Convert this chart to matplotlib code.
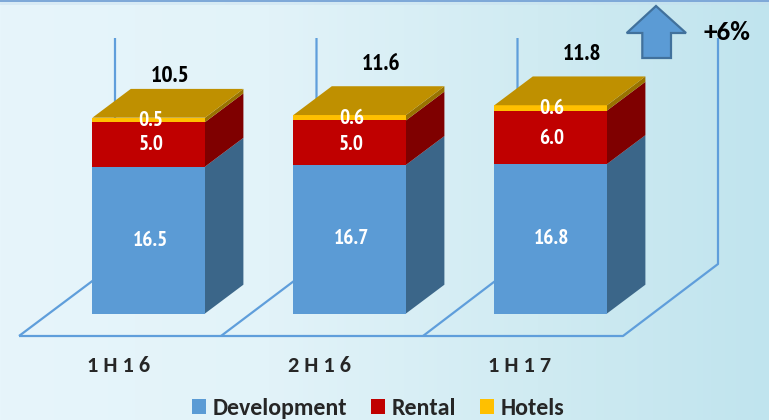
import numpy as np
import matplotlib
matplotlib.use("Agg")
import matplotlib.pyplot as plt
from matplotlib import font_manager as fm
from matplotlib.patches import Patch, Polygon
from matplotlib.transforms import Affine2D
from matplotlib.colors import to_rgb

categories = ["1 H 1 6", "2 H 1 6", "1 H 1 7"]
development = [16.5, 16.7, 16.8]
rental = [5.0, 5.0, 6.0]
hotels = [0.5, 0.6, 0.6]
totals = ["10.5", "11.6", "11.8"]
change_label = "+6%"

W, H = 769, 420
BAR_STEP = 201.0      # px between categories
UNIT = 8.9            # px per value unit
X0, Y0 = 148.7, 313.5 # px of first bar centre / baseline
BAR_W = 112.6 / BAR_STEP
DX = 38.4 / BAR_STEP
DY = 28.8 / UNIT

installed = {f.name for f in fm.fontManager.ttflist}
def pick(*names):
    return next((n for n in names if n in installed), "DejaVu Sans")
NARROW = pick("Liberation Sans Narrow", "PT Sans Narrow", "Pragati Narrow",
              "Cabin Condensed", "Liberation Sans")
BODY = pick("Carlito", "Lato")

fig = plt.figure(figsize=(W / 100, H / 100), dpi=100)

# background
bg = fig.add_axes([0, 0, 1, 1], zorder=0)
bg.axis("off")
stops_x = [0, 0.35, 0.7, 1]
stops_c = [to_rgb(c) for c in ("#e7f5fb", "#e2f3f9", "#d0ebf2", "#c0e4ee")]
xs = np.linspace(0, 1, W)
row = np.stack([np.interp(xs, stops_x, [c[i] for c in stops_c]) for i in range(3)], axis=1)
img = np.repeat(row[None, :, :], H, axis=0)
img[:2, :, :] = to_rgb("#7fa9d8")
img[2:5, :, :] = img[2:5, :, :] * 0.6 + np.array(to_rgb("#c4dcee")) * 0.4
bg.imshow(img, aspect="auto", extent=(0, W, H, 0), interpolation="nearest")

ax = fig.add_axes([0, 0, 1, 1], zorder=1)
ax.set_xlim(-X0 / BAR_STEP, (W - X0) / BAR_STEP)
ax.set_ylim((Y0 - H) / UNIT, Y0 / UNIT)
ax.axis("off")
ax.patch.set_alpha(0)

px = Affine2D().scale(1, -1).translate(0, H)
LINE = "#5f9edb"

# floor and wall lines
floor = dict(color=LINE, lw=1.6, transform=px, zorder=1, solid_capstyle="butt")
ax.plot([19, 623, 718, 718], [336, 336, 264, 38], **floor)
for xl, xb in ((19, 115), (221, 316.5), (423, 517.5)):
    ax.plot([xl, xb, xb], [336, 264, 38], **floor)

x = np.arange(len(categories))
seg = [
    (development, "#5b9bd5", "#3b6689", "Development"),
    (rental, "#c00000", "#7f0000", "Rental"),
    (hotels, "#ffc000", "#997300", "Hotels"),
]
bottom = np.zeros(len(x))
for values, front, side, name in seg:
    values = np.array(values)
    ax.bar(x, values, BAR_W, bottom=bottom, color=front, linewidth=0, zorder=3)
    for xi, b, v in zip(x, bottom, values):
        r = xi + BAR_W / 2
        ax.add_patch(Polygon([(r, b), (r + DX, b + DY), (r + DX, b + v + DY), (r, b + v)],
                             closed=True, fc=side, ec="none", zorder=2.5))
    bottom = bottom + values

for xi, t in zip(x, bottom):
    l, r = xi - BAR_W / 2, xi + BAR_W / 2
    ax.add_patch(Polygon([(l, t), (l + DX, t + DY), (r + DX, t + DY), (r, t)],
                         closed=True, fc="#bf9000", ec="none", zorder=3))

# arrow
arrow = [(656, 6), (686, 33), (671, 33), (671, 58), (642.3, 58), (642.3, 33), (626.7, 33)]
ax.add_patch(Polygon(arrow, closed=True, fc="#5b9bd5", ec="#41719c", lw=1.6,
                     transform=px, zorder=4))

value_style = dict(family=NARROW, weight="bold", color="white", ha="center", va="center",
                   fontsize=15.5, transform=px, zorder=6)
label_x = (151, 351.5, 552)
dev_y = (240, 239, 239)
ren_y = (145, 144, 138)
hot_y = (121, 119, 109)
for i in range(3):
    ax.text(label_x[i], dev_y[i], f"{development[i]:.1f}", **value_style)
    ax.text(label_x[i], ren_y[i], f"{rental[i]:.1f}", **value_style)
    ax.text(label_x[i], hot_y[i], f"{hotels[i]:.1f}", **value_style)

total_x = (170, 381, 582)
total_y = (77, 65, 54)
for i in range(3):
    ax.text(total_x[i], total_y[i], totals[i], family=NARROW, weight="bold", color="black",
            ha="center", va="center", fontsize=17, transform=px, zorder=6)

ax.text(727, 33, change_label, family=BODY, weight="bold", color="black", ha="center",
        va="center", fontsize=19.5, transform=px, zorder=6)

cat_x = (119, 320, 520)
for cx, c in zip(cat_x, categories):
    ax.text(cx, 366.5, c, family=BODY, weight="bold", color="#262626", ha="center",
            va="center", fontsize=16, transform=px, zorder=6)

handles = [Patch(fc=front, ec="none", label=name) for _, front, _, name in seg]
leg = ax.legend(handles=handles, ncols=3, loc="center", frameon=False,
                bbox_to_anchor=(378 / W, 1 - 408.5 / H), bbox_transform=fig.transFigure,
                prop={"family": BODY, "weight": "bold", "size": 17.2},
                handlelength=0.6, handleheight=0.6, handletextpad=0.26,
                columnspacing=1.0, borderpad=0, labelcolor="#262626")

fig.savefig("out.png", dpi=100)
